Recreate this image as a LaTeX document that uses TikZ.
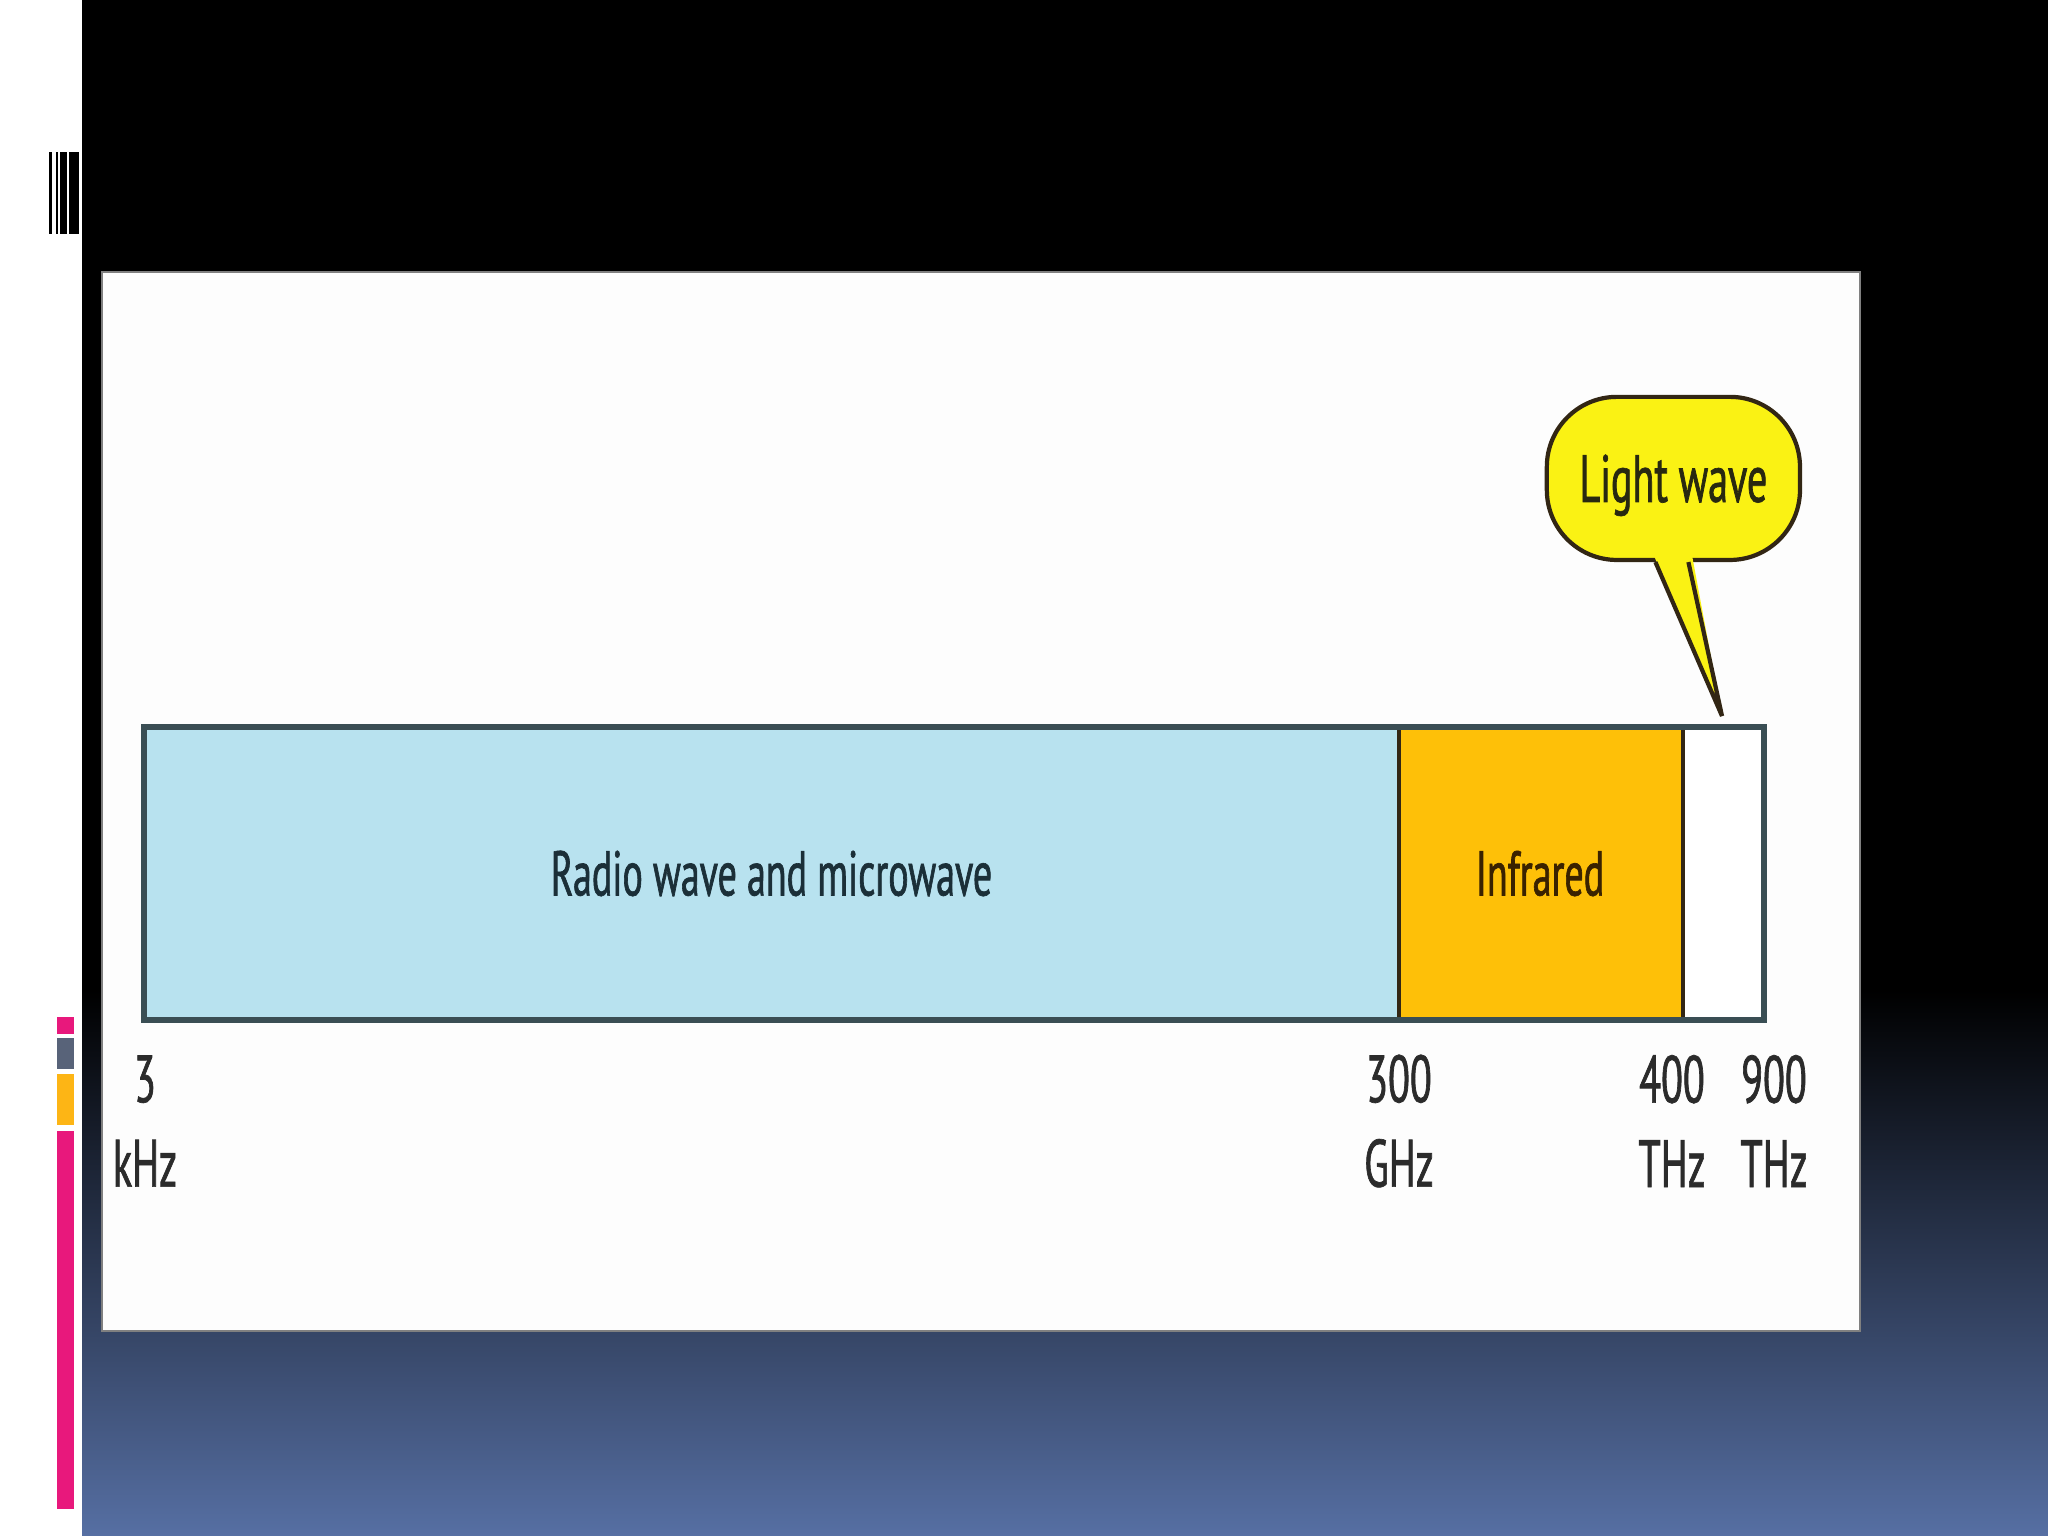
\documentclass[tikz,border=0pt]{standalone}
\usepackage{fontspec}
\newfontfamily\bandfont[FakeStretch=0.6,FakeBold=1]{PT Sans}
\usetikzlibrary{calc}
\definecolor{slideblue}{RGB}{86,111,163}
\definecolor{panelwhite}{RGB}{253,253,253}
\definecolor{radioblue}{RGB}{184,226,239}
\definecolor{irorange}{RGB}{254,192,8}
\definecolor{bubbleyellow}{RGB}{250,242,20}
\definecolor{barline}{RGB}{58,78,84}
\definecolor{divline}{RGB}{50,38,20}
\definecolor{accentpink}{RGB}{232,24,124}
\definecolor{accentgray}{RGB}{88,99,121}
\definecolor{accentorange}{RGB}{253,181,21}
\definecolor{labelgray}{RGB}{43,43,43}
\tikzset{
  band/.style={inner sep=0pt, minimum height=2.91cm, text height=0.44cm, text depth=0pt,
    font=\bandfont\fontsize{18}{22}\selectfont},
  freq/.style={align=center, inner sep=0pt, text=labelgray, font=\bandfont\fontsize{19}{24}\selectfont}
}
\begin{document}
\begin{tikzpicture}[x=0.01cm,y=-0.01cm]
\useasboundingbox (0,0) rectangle (2048,1536);
% slide background
\fill[black] (82,0) rectangle (2048,1536);
\shade[top color=black, bottom color=slideblue] (82,990) rectangle (2048,1536);
\fill[white] (0,0) rectangle (82,1536);
\foreach \a/\b in {49.3/51.7, 55.7/58, 60.3/66.7, 69/79.3}
  \fill[black] (\a,152) rectangle (\b,234);
\fill[accentpink] (57,1017) rectangle (74,1034);
\fill[accentgray] (57,1038) rectangle (74,1069);
\fill[accentorange] (57,1074) rectangle (74,1125);
\fill[accentpink] (57,1131) rectangle (74,1509);
\draw[gray, line width=0.4pt, fill=panelwhite] (102,272) rectangle (1860,1331);
% spectrum bar
\node[band, fill=radioblue, minimum width=12.53cm, text={rgb,255:red,27;green,47;blue,56}] (radio) at (771.5,873.5) {Radio wave and microwave};
\node[band, fill=irorange, minimum width=2.84cm, text={rgb,255:red,58;green,34;blue,0}] (infra) at (1540,873.5) {Infrared};
\node[band, fill=white, minimum width=0.81cm] (light) at (1722.5,873.5) {};
\draw[divline, line width=1.1pt] (radio.north east) -- (radio.south east);
\draw[divline, line width=1.1pt] (infra.north east) -- (infra.south east);
\draw[barline, line width=1.7pt] (radio.north west) rectangle (light.south east);
% frequency labels
\node[freq] (f1) at (145,1121) {3\\kHz};
\node[freq] (f2) at (1399,1121) {300\\GHz};
\node[freq] (f3) at (1672,1121) {400\\THz};
\node[freq] (f4) at (1774,1121) {900\\THz};
% callout
\node[draw=divline, line width=1.2pt, fill=bubbleyellow, rounded corners=0.7cm, minimum width=2.53cm, minimum height=1.63cm,
  inner sep=0pt, text height=0.47cm, text depth=0pt, text={rgb,255:red,40;green,40;blue,16},
  font=\bandfont\fontsize{19}{22}\selectfont] (bubble) at (1673.4,478.4) {Light wave};
\coordinate (tip) at (1722,716);
\fill[bubbleyellow] ($(bubble.south)+(-21,-10)$) -- (tip) -- ($(bubble.south)+(18,-10)$) -- cycle;
\draw[divline, line width=1.2pt, line join=miter] ($(bubble.south)+(-18,0)$) -- (tip) -- ($(bubble.south)+(15,0)$);
\end{tikzpicture}
\end{document}
